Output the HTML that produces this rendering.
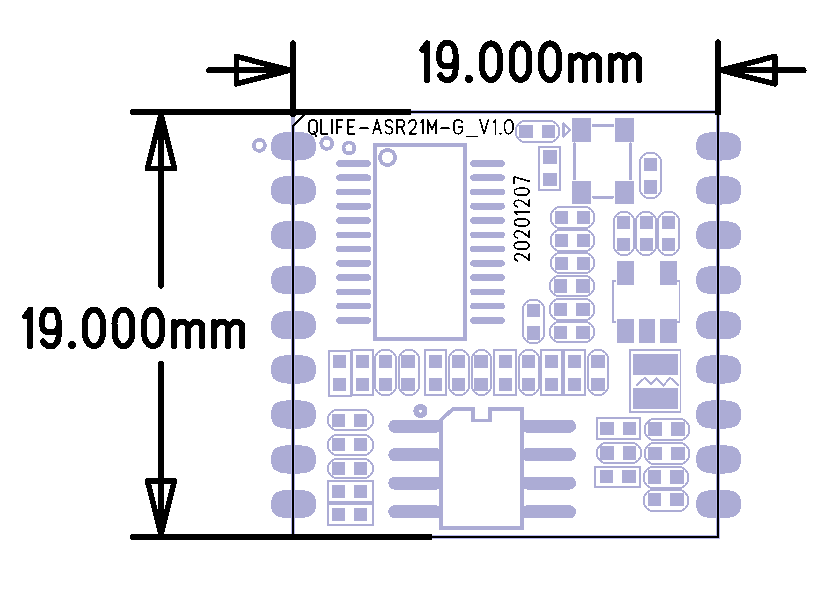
<!DOCTYPE html><html><head><meta charset="utf-8"><style>html,body{margin:0;padding:0;background:#fff;}svg{display:block;}</style></head><body>
<svg shape-rendering="crispEdges" width="823" height="597" viewBox="0 0 823 597">
<rect width="823" height="597" fill="#fff"/>
<g fill="#acacd5">
<path d="M316.00,146.25 C316.00,157.30 310.84,160.60 293.55,160.60 C276.26,160.60 271.10,157.30 271.10,146.25 C271.10,135.20 276.26,131.90 293.55,131.90 C310.84,131.90 316.00,135.20 316.00,146.25 Z"/>
<path d="M741.10,146.25 C741.10,157.30 735.94,160.60 718.65,160.60 C701.36,160.60 696.20,157.30 696.20,146.25 C696.20,135.20 701.36,131.90 718.65,131.90 C735.94,131.90 741.10,135.20 741.10,146.25 Z"/>
<path d="M316.00,190.25 C316.00,201.30 310.84,204.60 293.55,204.60 C276.26,204.60 271.10,201.30 271.10,190.25 C271.10,179.20 276.26,175.90 293.55,175.90 C310.84,175.90 316.00,179.20 316.00,190.25 Z"/>
<path d="M741.10,190.25 C741.10,201.30 735.94,204.60 718.65,204.60 C701.36,204.60 696.20,201.30 696.20,190.25 C696.20,179.20 701.36,175.90 718.65,175.90 C735.94,175.90 741.10,179.20 741.10,190.25 Z"/>
<path d="M316.00,235.20 C316.00,246.25 310.84,249.55 293.55,249.55 C276.26,249.55 271.10,246.25 271.10,235.20 C271.10,224.15 276.26,220.85 293.55,220.85 C310.84,220.85 316.00,224.15 316.00,235.20 Z"/>
<path d="M741.10,235.20 C741.10,246.25 735.94,249.55 718.65,249.55 C701.36,249.55 696.20,246.25 696.20,235.20 C696.20,224.15 701.36,220.85 718.65,220.85 C735.94,220.85 741.10,224.15 741.10,235.20 Z"/>
<path d="M316.00,280.10 C316.00,291.15 310.84,294.45 293.55,294.45 C276.26,294.45 271.10,291.15 271.10,280.10 C271.10,269.05 276.26,265.75 293.55,265.75 C310.84,265.75 316.00,269.05 316.00,280.10 Z"/>
<path d="M741.10,280.10 C741.10,291.15 735.94,294.45 718.65,294.45 C701.36,294.45 696.20,291.15 696.20,280.10 C696.20,269.05 701.36,265.75 718.65,265.75 C735.94,265.75 741.10,269.05 741.10,280.10 Z"/>
<path d="M316.00,325.20 C316.00,336.25 310.84,339.55 293.55,339.55 C276.26,339.55 271.10,336.25 271.10,325.20 C271.10,314.15 276.26,310.85 293.55,310.85 C310.84,310.85 316.00,314.15 316.00,325.20 Z"/>
<path d="M741.10,325.20 C741.10,336.25 735.94,339.55 718.65,339.55 C701.36,339.55 696.20,336.25 696.20,325.20 C696.20,314.15 701.36,310.85 718.65,310.85 C735.94,310.85 741.10,314.15 741.10,325.20 Z"/>
<path d="M316.00,369.35 C316.00,380.40 310.84,383.70 293.55,383.70 C276.26,383.70 271.10,380.40 271.10,369.35 C271.10,358.30 276.26,355.00 293.55,355.00 C310.84,355.00 316.00,358.30 316.00,369.35 Z"/>
<path d="M741.10,369.35 C741.10,380.40 735.94,383.70 718.65,383.70 C701.36,383.70 696.20,380.40 696.20,369.35 C696.20,358.30 701.36,355.00 718.65,355.00 C735.94,355.00 741.10,358.30 741.10,369.35 Z"/>
<path d="M316.00,414.50 C316.00,425.55 310.84,428.85 293.55,428.85 C276.26,428.85 271.10,425.55 271.10,414.50 C271.10,403.45 276.26,400.15 293.55,400.15 C310.84,400.15 316.00,403.45 316.00,414.50 Z"/>
<path d="M741.10,414.50 C741.10,425.55 735.94,428.85 718.65,428.85 C701.36,428.85 696.20,425.55 696.20,414.50 C696.20,403.45 701.36,400.15 718.65,400.15 C735.94,400.15 741.10,403.45 741.10,414.50 Z"/>
<path d="M316.00,459.40 C316.00,470.45 310.84,473.75 293.55,473.75 C276.26,473.75 271.10,470.45 271.10,459.40 C271.10,448.35 276.26,445.05 293.55,445.05 C310.84,445.05 316.00,448.35 316.00,459.40 Z"/>
<path d="M741.10,459.40 C741.10,470.45 735.94,473.75 718.65,473.75 C701.36,473.75 696.20,470.45 696.20,459.40 C696.20,448.35 701.36,445.05 718.65,445.05 C735.94,445.05 741.10,448.35 741.10,459.40 Z"/>
<path d="M316.00,504.10 C316.00,515.15 310.84,518.45 293.55,518.45 C276.26,518.45 271.10,515.15 271.10,504.10 C271.10,493.05 276.26,489.75 293.55,489.75 C310.84,489.75 316.00,493.05 316.00,504.10 Z"/>
<path d="M741.10,504.10 C741.10,515.15 735.94,518.45 718.65,518.45 C701.36,518.45 696.20,515.15 696.20,504.10 C696.20,493.05 701.36,489.75 718.65,489.75 C735.94,489.75 741.10,493.05 741.10,504.10 Z"/>
<rect x="336.2" y="160.15" width="34.8" height="6.6" rx="3.3"/>
<rect x="470.2" y="160.15" width="34.6" height="6.6" rx="3.3"/>
<rect x="336.2" y="174.42" width="34.8" height="6.6" rx="3.3"/>
<rect x="470.2" y="174.42" width="34.6" height="6.6" rx="3.3"/>
<rect x="336.2" y="188.69" width="34.8" height="6.6" rx="3.3"/>
<rect x="470.2" y="188.69" width="34.6" height="6.6" rx="3.3"/>
<rect x="336.2" y="202.96" width="34.8" height="6.6" rx="3.3"/>
<rect x="470.2" y="202.96" width="34.6" height="6.6" rx="3.3"/>
<rect x="336.2" y="217.23" width="34.8" height="6.6" rx="3.3"/>
<rect x="470.2" y="217.23" width="34.6" height="6.6" rx="3.3"/>
<rect x="336.2" y="231.50" width="34.8" height="6.6" rx="3.3"/>
<rect x="470.2" y="231.50" width="34.6" height="6.6" rx="3.3"/>
<rect x="336.2" y="245.77" width="34.8" height="6.6" rx="3.3"/>
<rect x="470.2" y="245.77" width="34.6" height="6.6" rx="3.3"/>
<rect x="336.2" y="260.04" width="34.8" height="6.6" rx="3.3"/>
<rect x="470.2" y="260.04" width="34.6" height="6.6" rx="3.3"/>
<rect x="336.2" y="274.31" width="34.8" height="6.6" rx="3.3"/>
<rect x="470.2" y="274.31" width="34.6" height="6.6" rx="3.3"/>
<rect x="336.2" y="288.58" width="34.8" height="6.6" rx="3.3"/>
<rect x="470.2" y="288.58" width="34.6" height="6.6" rx="3.3"/>
<rect x="336.2" y="302.85" width="34.8" height="6.6" rx="3.3"/>
<rect x="470.2" y="302.85" width="34.6" height="6.6" rx="3.3"/>
<rect x="336.2" y="317.12" width="34.8" height="6.6" rx="3.3"/>
<rect x="470.2" y="317.12" width="34.6" height="6.6" rx="3.3"/>
<rect x="388.3" y="419.60" width="54" height="13.2" rx="6.6"/>
<rect x="521" y="419.60" width="55" height="13.2" rx="6.6"/>
<rect x="388.3" y="448.10" width="54" height="13.2" rx="6.6"/>
<rect x="521" y="448.10" width="55" height="13.2" rx="6.6"/>
<rect x="388.3" y="476.50" width="54" height="13.2" rx="6.6"/>
<rect x="521" y="476.50" width="55" height="13.2" rx="6.6"/>
<rect x="388.3" y="505.20" width="54" height="13.2" rx="6.6"/>
<rect x="521" y="505.20" width="55" height="13.2" rx="6.6"/>
</g>
<rect x="329.0" y="351.0" width="22" height="45" fill="none" stroke="#acacd5" stroke-width="2"/><rect x="333" y="355" width="13" height="13" fill="#acacd5"/><rect x="333" y="378" width="13" height="13" fill="#acacd5"/>
<rect x="352.0" y="350.0" width="21" height="45" fill="none" stroke="#acacd5" stroke-width="2"/><rect x="356" y="355" width="13" height="13" fill="#acacd5"/><rect x="356" y="378" width="13" height="13" fill="#acacd5"/>
<rect x="375.0" y="350.0" width="21" height="45" rx="9" ry="9" fill="none" stroke="#acacd5" stroke-width="2"/><rect x="379" y="355" width="13" height="13" fill="#acacd5"/><rect x="379" y="378" width="13" height="13" fill="#acacd5"/>
<rect x="399.0" y="350.0" width="20" height="45" rx="9" ry="9" fill="none" stroke="#acacd5" stroke-width="2"/><rect x="401" y="355" width="14" height="13" fill="#acacd5"/><rect x="401" y="378" width="14" height="13" fill="#acacd5"/>
<rect x="425.0" y="350.0" width="21" height="45" fill="none" stroke="#acacd5" stroke-width="2"/><rect x="429" y="355" width="13" height="13" fill="#acacd5"/><rect x="429" y="378" width="13" height="13" fill="#acacd5"/>
<rect x="449.0" y="350.0" width="20" height="45" rx="9" ry="9" fill="none" stroke="#acacd5" stroke-width="2"/><rect x="452" y="355" width="13" height="13" fill="#acacd5"/><rect x="452" y="378" width="13" height="13" fill="#acacd5"/>
<rect x="472.0" y="350.0" width="19" height="45" rx="9" ry="9" fill="none" stroke="#acacd5" stroke-width="2"/><rect x="474" y="355" width="14" height="13" fill="#acacd5"/><rect x="474" y="378" width="14" height="13" fill="#acacd5"/>
<rect x="494.0" y="350.0" width="22" height="45" fill="none" stroke="#acacd5" stroke-width="2"/><rect x="499" y="355" width="13" height="13" fill="#acacd5"/><rect x="499" y="378" width="13" height="13" fill="#acacd5"/>
<rect x="519.0" y="350.0" width="20" height="45" rx="9" ry="9" fill="none" stroke="#acacd5" stroke-width="2"/><rect x="522" y="355" width="13" height="13" fill="#acacd5"/><rect x="522" y="378" width="13" height="13" fill="#acacd5"/>
<rect x="541.0" y="350.0" width="21" height="45" fill="none" stroke="#acacd5" stroke-width="2"/><rect x="545" y="355" width="13" height="13" fill="#acacd5"/><rect x="545" y="378" width="13" height="13" fill="#acacd5"/>
<rect x="564.0" y="350.0" width="21" height="45" fill="none" stroke="#acacd5" stroke-width="2"/><rect x="568" y="355" width="13" height="13" fill="#acacd5"/><rect x="568" y="378" width="13" height="13" fill="#acacd5"/>
<rect x="588.0" y="350.0" width="20" height="45" rx="9" ry="9" fill="none" stroke="#acacd5" stroke-width="2"/><rect x="591" y="355" width="14" height="13" fill="#acacd5"/><rect x="591" y="378" width="14" height="13" fill="#acacd5"/>
<rect x="328.0" y="410.0" width="45" height="20" rx="9" ry="9" fill="none" stroke="#acacd5" stroke-width="2"/><rect x="332" y="414" width="13" height="13" fill="#acacd5"/><rect x="354" y="414" width="13" height="13" fill="#acacd5"/>
<rect x="328.0" y="435.0" width="45" height="20" rx="9" ry="9" fill="none" stroke="#acacd5" stroke-width="2"/><rect x="332" y="438" width="13" height="13" fill="#acacd5"/><rect x="354" y="438" width="13" height="13" fill="#acacd5"/>
<rect x="328.0" y="459.0" width="45" height="19" rx="9" ry="9" fill="none" stroke="#acacd5" stroke-width="2"/><rect x="332" y="462" width="13" height="13" fill="#acacd5"/><rect x="354" y="462" width="13" height="13" fill="#acacd5"/>
<rect x="328.0" y="481.0" width="45" height="21" fill="none" stroke="#acacd5" stroke-width="2"/><rect x="332" y="485" width="13" height="13" fill="#acacd5"/><rect x="354" y="485" width="13" height="13" fill="#acacd5"/>
<rect x="328.0" y="504.0" width="45" height="21" fill="none" stroke="#acacd5" stroke-width="2"/><rect x="332" y="508" width="13" height="13" fill="#acacd5"/><rect x="354" y="508" width="13" height="13" fill="#acacd5"/>
<rect x="516.0" y="121.0" width="43" height="21" rx="9" ry="9" fill="none" stroke="#acacd5" stroke-width="2"/><rect x="519" y="125" width="14" height="13" fill="#acacd5"/><rect x="542" y="125" width="13" height="13" fill="#acacd5"/>
<rect x="539.0" y="147.0" width="21" height="43" fill="none" stroke="#acacd5" stroke-width="2"/><rect x="543" y="150" width="14" height="14" fill="#acacd5"/><rect x="543" y="173" width="14" height="13" fill="#acacd5"/>
<rect x="640.0" y="153.0" width="21" height="45" rx="9" ry="9" fill="none" stroke="#acacd5" stroke-width="2"/><rect x="644" y="158" width="13" height="13" fill="#acacd5"/><rect x="644" y="180" width="13" height="14" fill="#acacd5"/>
<rect x="551.0" y="207.0" width="43" height="21" rx="9" ry="9" fill="none" stroke="#acacd5" stroke-width="2"/><rect x="555" y="211" width="13" height="13" fill="#acacd5"/><rect x="577" y="211" width="13" height="13" fill="#acacd5"/>
<rect x="551.0" y="230.0" width="43" height="21" rx="9" ry="9" fill="none" stroke="#acacd5" stroke-width="2"/><rect x="555" y="234" width="13" height="13" fill="#acacd5"/><rect x="577" y="234" width="13" height="13" fill="#acacd5"/>
<rect x="551.0" y="253.0" width="43" height="20" rx="9" ry="9" fill="none" stroke="#acacd5" stroke-width="2"/><rect x="555" y="257" width="13" height="13" fill="#acacd5"/><rect x="577" y="257" width="13" height="13" fill="#acacd5"/>
<rect x="550.0" y="276.0" width="44" height="20" rx="9" ry="9" fill="none" stroke="#acacd5" stroke-width="2"/><rect x="554" y="279" width="13" height="14" fill="#acacd5"/><rect x="576" y="279" width="14" height="14" fill="#acacd5"/>
<rect x="550.0" y="299.0" width="44" height="21" rx="9" ry="9" fill="none" stroke="#acacd5" stroke-width="2"/><rect x="554" y="303" width="13" height="13" fill="#acacd5"/><rect x="576" y="303" width="14" height="13" fill="#acacd5"/>
<rect x="550.0" y="322.0" width="44" height="20" rx="9" ry="9" fill="none" stroke="#acacd5" stroke-width="2"/><rect x="554" y="326" width="13" height="13" fill="#acacd5"/><rect x="576" y="326" width="14" height="13" fill="#acacd5"/>
<rect x="523.0" y="300.0" width="21" height="43" rx="9" ry="9" fill="none" stroke="#acacd5" stroke-width="2"/><rect x="527" y="304" width="13" height="13" fill="#acacd5"/><rect x="527" y="326" width="13" height="14" fill="#acacd5"/>
<rect x="614.0" y="212.0" width="20" height="43" rx="9" ry="9" fill="none" stroke="#acacd5" stroke-width="2"/><rect x="617" y="216" width="13" height="13" fill="#acacd5"/><rect x="617" y="238" width="13" height="13" fill="#acacd5"/>
<rect x="636.0" y="212.0" width="20" height="43" rx="9" ry="9" fill="none" stroke="#acacd5" stroke-width="2"/><rect x="640" y="216" width="13" height="13" fill="#acacd5"/><rect x="640" y="238" width="13" height="13" fill="#acacd5"/>
<rect x="658.0" y="212.0" width="21" height="43" rx="9" ry="9" fill="none" stroke="#acacd5" stroke-width="2"/><rect x="662" y="216" width="13" height="13" fill="#acacd5"/><rect x="662" y="238" width="13" height="13" fill="#acacd5"/>
<g fill="#acacd5"><rect x="616.8" y="260.9" width="17.2" height="23.9"/><rect x="660" y="260.9" width="17.1" height="23.9"/><rect x="616.8" y="318.7" width="17.2" height="23.9"/><rect x="639" y="318.7" width="16" height="23.9"/><rect x="660" y="318.7" width="17.1" height="23.9"/></g>
<path d="M616,280.8 L613,280.8 L613,322.2 L616,322.2 M677.4,280.8 L679.6,280.8 L679.6,322.2 L677.4,322.2" fill="none" stroke="#acacd5" stroke-width="1.5"/>
<rect x="629.8" y="349.8" width="50.5" height="62.4" fill="none" stroke="#acacd5" stroke-width="1.5"/>
<rect x="633.1" y="354.1" width="44.8" height="20.7" fill="#acacd5"/><rect x="633.1" y="388.2" width="44.8" height="20.8" fill="#acacd5"/>
<path d="M636.3,385.6 L644.8,377.8 L650.8,384.2 L656.9,378.5 L663.6,385.2 L670.3,377.8 L678.7,385.6" fill="none" stroke="#acacd5" stroke-width="2"/>
<rect x="597.0" y="418.0" width="43" height="21" fill="none" stroke="#acacd5" stroke-width="2"/><rect x="600" y="422" width="14" height="13" fill="#acacd5"/><rect x="623" y="422" width="13" height="13" fill="#acacd5"/>
<rect x="597.0" y="443.0" width="44" height="20" rx="9" ry="9" fill="none" stroke="#acacd5" stroke-width="2"/><rect x="600" y="446" width="14" height="14" fill="#acacd5"/><rect x="623" y="446" width="13" height="14" fill="#acacd5"/>
<rect x="595.0" y="467.0" width="45" height="20" fill="none" stroke="#acacd5" stroke-width="2"/><rect x="600" y="470" width="13" height="13" fill="#acacd5"/><rect x="622" y="470" width="14" height="13" fill="#acacd5"/>
<rect x="645.0" y="419.0" width="44" height="21" rx="9" ry="9" fill="none" stroke="#acacd5" stroke-width="2"/><rect x="648" y="422" width="14" height="14" fill="#acacd5"/><rect x="671" y="422" width="14" height="14" fill="#acacd5"/>
<rect x="645.0" y="443.0" width="44" height="21" rx="9" ry="9" fill="none" stroke="#acacd5" stroke-width="2"/><rect x="648" y="447" width="14" height="13" fill="#acacd5"/><rect x="671" y="447" width="14" height="13" fill="#acacd5"/>
<rect x="644.0" y="467.0" width="44" height="21" rx="9" ry="9" fill="none" stroke="#acacd5" stroke-width="2"/><rect x="648" y="470" width="13" height="14" fill="#acacd5"/><rect x="670" y="470" width="14" height="14" fill="#acacd5"/>
<rect x="644.0" y="490.0" width="44" height="21" rx="9" ry="9" fill="none" stroke="#acacd5" stroke-width="2"/><rect x="648" y="493" width="13" height="13" fill="#acacd5"/><rect x="670" y="493" width="14" height="13" fill="#acacd5"/>
<g fill="#acacd5"><rect x="572.3" y="118" width="18.4" height="23.8"/><rect x="615" y="118" width="18.8" height="23.8"/><rect x="572.3" y="180.9" width="18.4" height="22.6"/><rect x="615" y="180.9" width="18.8" height="22.6"/></g>
<path d="M593,125.5 L613,125.5 M593,197.4 L613,197.4 M574.5,143.5 L574.5,179 M630.5,143.5 L630.5,179" fill="none" stroke="#acacd5" stroke-width="2.4" stroke-linecap="round"/>
<path d="M563.6,123.6 L570.1,130 L563.6,136.4 Z" fill="none" stroke="#acacd5" stroke-width="2.6" stroke-linejoin="round"/>
<rect x="375.05" y="145.05" width="89.85" height="193.65" fill="none" stroke="#acacd5" stroke-width="3.9"/>
<circle cx="387.45" cy="157.45" r="7.6" fill="none" stroke="#acacd5" stroke-width="3.75"/>
<path d="M441,528.3 L441,420 L452.6,409.2 L472.9,409.2 L472.9,420.4 L489.8,420.4 L489.8,409.2 L522.3,409.2 L522.3,528.3 Z" fill="none" stroke="#acacd5" stroke-width="3.7" stroke-linejoin="miter"/>
<circle cx="420.5" cy="411" r="7.1" fill="#acacd5"/><circle cx="420.4" cy="411.1" r="1.6" fill="#fff"/>
<circle cx="259.4" cy="145.4" r="5.45" fill="none" stroke="#acacd5" stroke-width="3.8"/>
<circle cx="326.7" cy="143.4" r="5.45" fill="none" stroke="#acacd5" stroke-width="3.8"/>
<circle cx="349" cy="147.9" r="5.45" fill="none" stroke="#acacd5" stroke-width="3.8"/>
<path d="M293,114 L293,537 L718,537 L718,112 L305,112" fill="none" stroke="#b8b8ee" stroke-width="4"/>
<path d="M293,114 L293,126" fill="none" stroke="#acacd5" stroke-width="4"/>
<path d="M307,112 L718,112 L718,537 L293,537 L293,126 Z" fill="none" stroke="#000" stroke-width="2"/>
<g fill="none" stroke="#000" stroke-width="5.6" stroke-linecap="round" stroke-linejoin="round">
<path d="M293,43 L293,114.2"/>
<path d="M718,42.2 L718,112"/><rect x="715.1" y="110" width="5.8" height="5" fill="#000" stroke="none"/>
<path d="M209,70.2 L290,70.2 M290,70.2 L236.3,56.5 L236.3,83.9 Z"/>
<path d="M803.8,70.2 L721,70.2 M721,70.2 L774.8,56.5 L774.8,83.9 Z"/>
<path d="M161,115 L161,286 M161,363.8 L161,534 M161,115 L147.5,168.6 L174.5,168.6 Z M161,534 L147.5,481 L174.5,481 Z"/>
</g>
<path d="M133,112 L408,112" stroke="#000" stroke-width="5.8" stroke-linecap="round"/>
<rect x="405" y="109.1" width="6" height="5.8" fill="#000"/>
<path d="M133,537 L429,537" stroke="#000" stroke-width="5.8" stroke-linecap="round"/>
<rect x="426" y="534.1" width="6.2" height="5.8" fill="#000"/>
<g fill="none" stroke="#000" stroke-width="6" stroke-linecap="round" stroke-linejoin="round">
<path vector-effect="non-scaling-stroke" transform="translate(422.30,43.40) scale(4.900,36.600)" d="M1,0 L1,1 M1,0 L0,0.18"/><path vector-effect="non-scaling-stroke" transform="translate(439.20,43.40) scale(16.300,36.600)" d="M1,0.45 C0.95,0.57 0.8,0.62 0.62,0.62 L0.38,0.62 C0.2,0.62 0.05,0.57 0,0.45 L0,0.28 C0,0.15 0.15,0.03 0.3,0 L0.7,0 C0.85,0.03 1,0.15 1,0.28 L1,0.74 C1,0.85 0.85,0.95 0.64,1 L0.4,1 C0.25,0.98 0.12,0.93 0.06,0.87"/><path vector-effect="non-scaling-stroke" transform="translate(481.90,43.40) scale(18.100,36.600)" d="M0.5,0 C0.75,0 1,0.15 1,0.38 L1,0.62 C1,0.85 0.75,1 0.5,1 C0.25,1 0,0.85 0,0.62 L0,0.38 C0,0.15 0.25,0 0.5,0 Z"/><path vector-effect="non-scaling-stroke" transform="translate(511.50,43.40) scale(17.900,36.600)" d="M0.5,0 C0.75,0 1,0.15 1,0.38 L1,0.62 C1,0.85 0.75,1 0.5,1 C0.25,1 0,0.85 0,0.62 L0,0.38 C0,0.15 0.25,0 0.5,0 Z"/><path vector-effect="non-scaling-stroke" transform="translate(541.00,43.40) scale(18.100,36.600)" d="M0.5,0 C0.75,0 1,0.15 1,0.38 L1,0.62 C1,0.85 0.75,1 0.5,1 C0.25,1 0,0.85 0,0.62 L0,0.38 C0,0.15 0.25,0 0.5,0 Z"/><path vector-effect="non-scaling-stroke" transform="translate(571.00,43.40) scale(28.200,36.600)" d="M0,0.33 L0,1 M0,0.46 L0.22,0.33 L0.36,0.33 L0.5,0.42 L0.5,1 M0.5,0.46 L0.72,0.33 L0.86,0.33 L1,0.42 L1,1"/><path vector-effect="non-scaling-stroke" transform="translate(611.00,43.40) scale(28.300,36.600)" d="M0,0.33 L0,1 M0,0.46 L0.22,0.33 L0.36,0.33 L0.5,0.42 L0.5,1 M0.5,0.46 L0.72,0.33 L0.86,0.33 L1,0.42 L1,1"/>
<path vector-effect="non-scaling-stroke" transform="translate(25.30,309.60) scale(4.900,36.600)" d="M1,0 L1,1 M1,0 L0,0.18"/><path vector-effect="non-scaling-stroke" transform="translate(42.20,309.60) scale(16.300,36.600)" d="M1,0.45 C0.95,0.57 0.8,0.62 0.62,0.62 L0.38,0.62 C0.2,0.62 0.05,0.57 0,0.45 L0,0.28 C0,0.15 0.15,0.03 0.3,0 L0.7,0 C0.85,0.03 1,0.15 1,0.28 L1,0.74 C1,0.85 0.85,0.95 0.64,1 L0.4,1 C0.25,0.98 0.12,0.93 0.06,0.87"/><path vector-effect="non-scaling-stroke" transform="translate(84.90,309.60) scale(18.100,36.600)" d="M0.5,0 C0.75,0 1,0.15 1,0.38 L1,0.62 C1,0.85 0.75,1 0.5,1 C0.25,1 0,0.85 0,0.62 L0,0.38 C0,0.15 0.25,0 0.5,0 Z"/><path vector-effect="non-scaling-stroke" transform="translate(114.50,309.60) scale(17.900,36.600)" d="M0.5,0 C0.75,0 1,0.15 1,0.38 L1,0.62 C1,0.85 0.75,1 0.5,1 C0.25,1 0,0.85 0,0.62 L0,0.38 C0,0.15 0.25,0 0.5,0 Z"/><path vector-effect="non-scaling-stroke" transform="translate(144.00,309.60) scale(18.100,36.600)" d="M0.5,0 C0.75,0 1,0.15 1,0.38 L1,0.62 C1,0.85 0.75,1 0.5,1 C0.25,1 0,0.85 0,0.62 L0,0.38 C0,0.15 0.25,0 0.5,0 Z"/><path vector-effect="non-scaling-stroke" transform="translate(174.00,309.60) scale(28.200,36.600)" d="M0,0.33 L0,1 M0,0.46 L0.22,0.33 L0.36,0.33 L0.5,0.42 L0.5,1 M0.5,0.46 L0.72,0.33 L0.86,0.33 L1,0.42 L1,1"/><path vector-effect="non-scaling-stroke" transform="translate(214.00,309.60) scale(28.300,36.600)" d="M0,0.33 L0,1 M0,0.46 L0.22,0.33 L0.36,0.33 L0.5,0.42 L0.5,1 M0.5,0.46 L0.72,0.33 L0.86,0.33 L1,0.42 L1,1"/>
</g>
<circle cx="469.00" cy="78.80" r="4.2" fill="#000"/><circle cx="72.00" cy="345.00" r="4.2" fill="#000"/>
<g fill="none" stroke="#000" stroke-width="1.6" stroke-linecap="round" stroke-linejoin="round">
<path vector-effect="non-scaling-stroke" transform="translate(308.80,119.90) scale(8.400,13.900)" d="M0.36,0 L0.64,0 C0.85,0.05 1,0.18 1,0.3 L1,0.7 C1,0.82 0.85,0.95 0.64,1 L0.36,1 C0.15,0.95 0,0.82 0,0.7 L0,0.3 C0,0.18 0.15,0.05 0.36,0 Z M0.62,0.84 L0.86,1.16"/>
<path vector-effect="non-scaling-stroke" transform="translate(320.90,119.90) scale(6.500,13.900)" d="M0,0 L0,1 L1,1"/>
<path vector-effect="non-scaling-stroke" transform="translate(331.15,119.90) scale(2.000,13.900)" d="M0.5,0 L0.5,1"/>
<path vector-effect="non-scaling-stroke" transform="translate(336.90,119.90) scale(5.800,13.900)" d="M1,0 L0,0 L0,1 M0,0.5 L0.8,0.5"/>
<path vector-effect="non-scaling-stroke" transform="translate(347.80,119.90) scale(6.600,13.900)" d="M1,0 L0,0 L0,1 L1,1 M0,0.5 L0.8,0.5"/>
<path vector-effect="non-scaling-stroke" transform="translate(359.90,119.90) scale(8.000,13.900)" d="M0,0.6 L1,0.6"/>
<path vector-effect="non-scaling-stroke" transform="translate(373.00,119.90) scale(8.100,13.900)" d="M0,1 L0.5,0 L1,1 M0.2,0.64 L0.8,0.64"/>
<path vector-effect="non-scaling-stroke" transform="translate(385.40,119.90) scale(7.000,13.900)" d="M1,0.15 C0.9,0.04 0.72,0 0.5,0 C0.2,0 0,0.1 0,0.27 C0,0.45 0.2,0.48 0.5,0.5 C0.8,0.52 1,0.57 1,0.75 C1,0.92 0.8,1 0.5,1 C0.28,1 0.1,0.95 0,0.85"/>
<path vector-effect="non-scaling-stroke" transform="translate(397.10,119.90) scale(7.300,13.900)" d="M0,1 L0,0 L0.6,0 C0.85,0 1,0.1 1,0.27 C1,0.43 0.85,0.52 0.6,0.52 L0,0.52 M0.55,0.52 L1,1"/>
<path vector-effect="non-scaling-stroke" transform="translate(408.80,119.90) scale(7.300,13.900)" d="M0,0.22 C0.08,0.07 0.28,0 0.5,0 C0.78,0 1,0.1 1,0.3 C1,0.45 0.85,0.55 0.6,0.68 L0.08,1 L1,1"/>
<path vector-effect="non-scaling-stroke" transform="translate(420.80,119.90) scale(2.400,13.900)" d="M1,0 L1,1 M1,0 L0,0.18"/>
<path vector-effect="non-scaling-stroke" transform="translate(427.80,119.90) scale(8.400,13.900)" d="M0,1 L0,0 L0.5,0.7 L1,0 L1,1"/>
<path vector-effect="non-scaling-stroke" transform="translate(440.90,119.90) scale(8.000,13.900)" d="M0,0.6 L1,0.6"/>
<path vector-effect="non-scaling-stroke" transform="translate(454.00,119.90) scale(8.400,13.900)" d="M1,0.2 C0.9,0.05 0.72,0 0.5,0 C0.2,0 0,0.15 0,0.35 L0,0.65 C0,0.85 0.2,1 0.5,1 C0.8,1 1,0.85 1,0.65 L1,0.52 L0.5,0.52"/>
<path vector-effect="non-scaling-stroke" transform="translate(467.10,119.90) scale(9.900,13.900)" d="M0,1.2 L1,1.2"/>
<path vector-effect="non-scaling-stroke" transform="translate(480.00,119.90) scale(8.300,13.900)" d="M0,0 L0.5,1 L1,0"/>
<path vector-effect="non-scaling-stroke" transform="translate(493.70,119.90) scale(1.650,13.900)" d="M1,0 L1,1 M1,0 L0,0.18"/>
<path vector-effect="non-scaling-stroke" transform="translate(504.60,119.90) scale(8.400,13.900)" d="M0.5,0 C0.75,0 1,0.15 1,0.38 L1,0.62 C1,0.85 0.75,1 0.5,1 C0.25,1 0,0.85 0,0.62 L0,0.38 C0,0.15 0.25,0 0.5,0 Z"/>
<path d="M499.9,133.8 L501,133.8"/>
<path vector-effect="non-scaling-stroke" transform="translate(514.3,260.9) rotate(-90) translate(0.00,0.00) scale(7.000,15.000)" d="M0,0.22 C0.08,0.07 0.28,0 0.5,0 C0.78,0 1,0.1 1,0.3 C1,0.45 0.85,0.55 0.6,0.68 L0.08,1 L1,1"/>
<path vector-effect="non-scaling-stroke" transform="translate(514.3,260.9) rotate(-90) translate(11.60,0.00) scale(7.500,15.000)" d="M0.5,0 C0.75,0 1,0.15 1,0.38 L1,0.62 C1,0.85 0.75,1 0.5,1 C0.25,1 0,0.85 0,0.62 L0,0.38 C0,0.15 0.25,0 0.5,0 Z"/>
<path vector-effect="non-scaling-stroke" transform="translate(514.3,260.9) rotate(-90) translate(22.90,0.00) scale(7.100,15.000)" d="M0,0.22 C0.08,0.07 0.28,0 0.5,0 C0.78,0 1,0.1 1,0.3 C1,0.45 0.85,0.55 0.6,0.68 L0.08,1 L1,1"/>
<path vector-effect="non-scaling-stroke" transform="translate(514.3,260.9) rotate(-90) translate(34.90,0.00) scale(7.100,15.000)" d="M0.5,0 C0.75,0 1,0.15 1,0.38 L1,0.62 C1,0.85 0.75,1 0.5,1 C0.25,1 0,0.85 0,0.62 L0,0.38 C0,0.15 0.25,0 0.5,0 Z"/>
<path vector-effect="non-scaling-stroke" transform="translate(514.3,260.9) rotate(-90) translate(46.40,0.00) scale(2.500,15.000)" d="M1,0 L1,1 M1,0 L0,0.18"/>
<path vector-effect="non-scaling-stroke" transform="translate(514.3,260.9) rotate(-90) translate(54.00,0.00) scale(6.700,15.000)" d="M0,0.22 C0.08,0.07 0.28,0 0.5,0 C0.78,0 1,0.1 1,0.3 C1,0.45 0.85,0.55 0.6,0.68 L0.08,1 L1,1"/>
<path vector-effect="non-scaling-stroke" transform="translate(514.3,260.9) rotate(-90) translate(65.70,0.00) scale(7.000,15.000)" d="M0.5,0 C0.75,0 1,0.15 1,0.38 L1,0.62 C1,0.85 0.75,1 0.5,1 C0.25,1 0,0.85 0,0.62 L0,0.38 C0,0.15 0.25,0 0.5,0 Z"/>
<path vector-effect="non-scaling-stroke" transform="translate(514.3,260.9) rotate(-90) translate(77.30,0.00) scale(6.700,15.000)" d="M0,0 L1,0 L0.35,1"/>
</g>
</svg></body></html>
